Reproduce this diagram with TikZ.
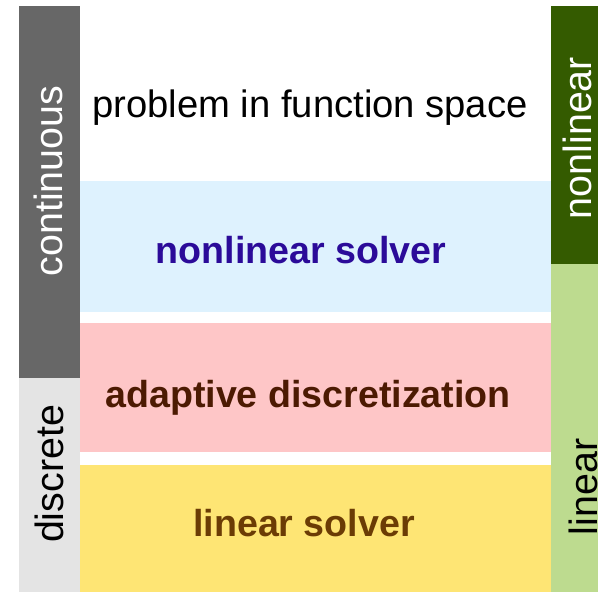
\documentclass[tikz,border=0pt]{standalone}
\usepackage{fontspec}
\setmainfont{Liberation Sans}
\usetikzlibrary{positioning}
\definecolor{contgray}{HTML}{676767}
\definecolor{discgray}{HTML}{E4E4E4}
\definecolor{nlgreen}{HTML}{345B00}
\definecolor{lingreen}{HTML}{BDDB8F}
\definecolor{solverblue}{HTML}{DEF2FE}
\definecolor{adaptpink}{HTML}{FEC6C7}
\definecolor{linyellow}{HTML}{FEE574}
\definecolor{nltext}{HTML}{2B0B99}
\definecolor{adtext}{HTML}{4C1A02}
\definecolor{lintext}{HTML}{6B3C05}
\tikzset{
  stage/.style={anchor=base,font=\fontsize{18.8}{22}\selectfont\bfseries},
  side/.style={anchor=base,rotate=90,font=\fontsize{19.7}{23}\selectfont},
}

\begin{document}
\begin{tikzpicture}[x=0.5pt,y=-0.5pt]
\useasboundingbox (0,0) rectangle (598,592);
\clip (0,0) rectangle (598,592);
\coordinate (L) at (80,0);
\coordinate (R) at (551,0);
\fill[contgray] (19,6) rectangle (80,378);
\fill[discgray] (19,378) rectangle (80,600);
\fill[nlgreen] (551,6) rectangle (620,264);
\fill[lingreen] (551,264) rectangle (620,600);
\fill[solverblue] (L |- 0,181) rectangle (R |- 0,312);
\fill[adaptpink] (L |- 0,323) rectangle (R |- 0,452);
\fill[linyellow] (L |- 0,465) rectangle (R |- 0,600);
\node[anchor=base,font=\fontsize{19.1}{22}\selectfont] (problem) at (310,118) {problem in function space};
\node[stage,text=nltext] (nlsolver) at (301,264) {nonlinear solver};
\node[stage,text=adtext] (adaptive) at (308,407) {adaptive discretization};
\node[stage,text=lintext] (linsolver) at (304,536) {linear solver};
\node[side,text=white] (continuous) at (62,181) {continuous};
\node[side] (discrete) at (63,474) {discrete};
\node[side,text=white] (nonlinear) at (591,138) {nonlinear};
\node[side] (linear) at (597,487) {linear};
\end{tikzpicture}
\end{document}
